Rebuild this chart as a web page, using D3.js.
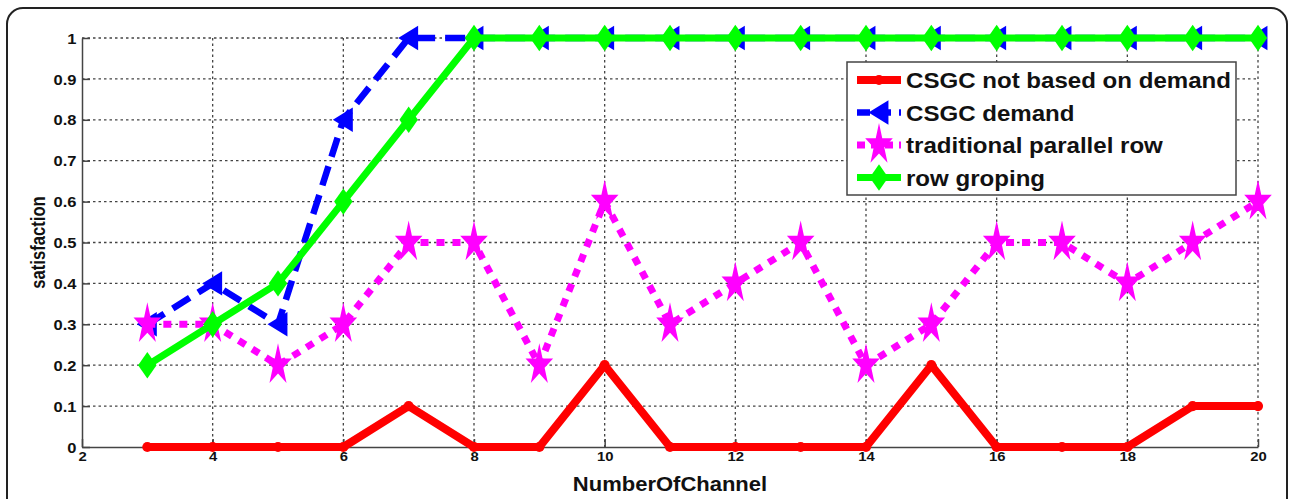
<!DOCTYPE html>
<html>
<head>
<meta charset="utf-8">
<script src="https://cdn.jsdelivr.net/npm/d3@7"></script>
<style>
  body { margin: 0; background: #fff; }
  text { font-family: "Liberation Sans", Arial, sans-serif; font-weight: bold; }
</style>
</head>
<body>
<svg id="svg" width="1289" height="499"></svg>
<script>
  const channels = [3, 4, 5, 6, 7, 8, 9, 10, 11, 12, 13, 14, 15, 16, 17, 18, 19, 20];
  const notDemand = [0, 0, 0, 0, 0.1, 0, 0, 0.2, 0, 0, 0, 0, 0.2, 0, 0, 0, 0.1, 0.1];
  const demand = [0.3, 0.4, 0.3, 0.8, 1, 1, 1, 1, 1, 1, 1, 1, 1, 1, 1, 1, 1, 1];
  const parallelRow = [0.3, 0.3, 0.2, 0.3, 0.5, 0.5, 0.2, 0.6, 0.3, 0.4, 0.5, 0.2, 0.3, 0.5, 0.5, 0.4, 0.5, 0.6];
  const rowGroping = [0.2, 0.3, 0.4, 0.6, 0.8, 1, 1, 1, 1, 1, 1, 1, 1, 1, 1, 1, 1, 1];
  const xTicks = [2, 4, 6, 8, 10, 12, 14, 16, 18, 20];
  const yTicks = [0, 0.1, 0.2, 0.3, 0.4, 0.5, 0.6, 0.7, 0.8, 0.9, 1];

  const padding = { top: 38, right: 31, bottom: 52, left: 82 };
  const svg = d3.select('#svg');
  const width = 1289, height = 499;
  const stretch = 1.1; // picture is a bit wider than tall
  const chartArea = {
    width: width - padding.left - padding.right,
    height: height - padding.top - padding.bottom
  };

  // outer rounded frame
  svg.append('rect')
    .attr('x', 7).attr('y', 8)
    .attr('width', 1280).attr('height', 540)
    .attr('rx', 16)
    .attr('fill', 'none')
    .attr('stroke', '#222')
    .attr('stroke-width', 2);

  const xScale = d3.scaleLinear().domain([2, 20]).range([0, chartArea.width]);
  const yScale = d3.scaleLinear().domain([0, 1]).range([chartArea.height, 0]);

  const g = svg.append('g')
    .attr('transform', `translate(${padding.left}, ${padding.top})`);

  // grid
  const grid = g.append('g').attr('stroke', '#444').attr('stroke-width', 1.3).attr('stroke-dasharray', '2.5,3');
  grid.selectAll('.gx').data(xTicks.slice(1)).enter().append('line')
    .attr('x1', d => xScale(d)).attr('x2', d => xScale(d))
    .attr('y1', 0).attr('y2', chartArea.height);
  grid.selectAll('.gy').data(yTicks.slice(1)).enter().append('line')
    .attr('y1', d => yScale(d)).attr('y2', d => yScale(d))
    .attr('x1', 0).attr('x2', chartArea.width);

  // axes
  const xAxis = g.append('g')
    .attr('transform', `translate(0, ${chartArea.height})`)
    .call(d3.axisBottom(xScale).tickValues(xTicks).tickSizeInner(-8).tickSizeOuter(0).tickPadding(4));
  const yAxis = g.append('g')
    .call(d3.axisLeft(yScale).tickValues(yTicks).tickSizeInner(-8).tickSizeOuter(0).tickPadding(5)
      .tickFormat(d => d === 0 ? '0' : d === 1 ? '1' : d3.format('.1f')(d)));
  [[xAxis, 13.5], [yAxis, 15]].forEach(([a, fs]) => {
    a.attr('font-size', fs);
    a.select('.domain').attr('stroke', '#444').attr('stroke-width', 1.5);
    a.selectAll('.tick line').attr('stroke', '#444').attr('stroke-width', 1.5);
    a.selectAll('.tick text')
      .attr('fill', '#111')
      .attr('transform', `scale(${stretch},1)`)
      .style('font-size', fs + 'px')
      .style('font-family', '"Liberation Sans", Arial, sans-serif')
      .style('font-weight', 'bold');
  });
  xAxis.selectAll('.tick text').attr('dy', '0.71em');
  yAxis.selectAll('.tick text').attr('dy', '0.34em');

  // axis labels
  svg.append('text')
    .attr('transform', `translate(${padding.left + chartArea.width / 2}, 491) scale(${stretch},1)`)
    .attr('text-anchor', 'middle').attr('font-size', 20).attr('fill', '#111')
    .text('NumberOfChannel');
  svg.append('text')
    .attr('transform', `translate(45, ${padding.top + chartArea.height / 2}) rotate(-90) scale(0.9,1.1)`)
    .attr('text-anchor', 'middle').attr('font-size', 18.5).attr('fill', '#111')
    .text('satisfaction');

  // marker shapes
  function markerPath(type, s) {
    if (type === 'tri') return `M${-s * 0.5},0L${s * 0.45},${-s * 0.58}L${s * 0.45},${s * 0.58}Z`;
    if (type === 'diamond') return `M0,${-s * 0.6}L${s * 0.42},0L0,${s * 0.6}L${-s * 0.42},0Z`;
    if (type === 'star') return d3.symbol(d3.symbolStar, s * s / 0.89)();
    return d3.symbol(d3.symbolCircle, s * s)();
  }
  // stars look narrower than tall in the picture
  function markerScale(type) {
    return type === 'star' ? 'scale(0.66,1)' : '';
  }

  const series = [
    { name: 'CSGC not based on demand', values: notDemand, color: '#ff0000', width: 8, dash: null, marker: 'dot', size: 9 },
    { name: 'CSGC demand', values: demand, color: '#0000ff', width: 6.5, dash: '20,10', marker: 'tri', size: 21 },
    { name: 'traditional parallel row', values: parallelRow, color: '#ff00ff', width: 7, dash: '8,8', marker: 'star', size: 22 },
    { name: 'row groping', values: rowGroping, color: '#00ff00', width: 7, dash: null, marker: 'diamond', size: 22 }
  ];

  const line = d3.line().x(d => xScale(d[0])).y(d => yScale(d[1]));

  series.forEach(s => {
    const pts = channels.map((c, i) => [c, s.values[i]]);
    g.append('path')
      .attr('d', line(pts))
      .attr('fill', 'none')
      .attr('stroke', s.color)
      .attr('stroke-width', s.width)
      .attr('stroke-linejoin', 'round')
      .attr('stroke-dasharray', s.dash);
    g.selectAll(null).data(pts).enter().append('path')
      .attr('d', markerPath(s.marker, s.size))
      .attr('transform', d => `translate(${xScale(d[0])}, ${yScale(d[1])}) ${markerScale(s.marker)}`)
      .attr('fill', s.color);
  });

  // legend
  const legend = svg.append('g').attr('transform', 'translate(847, 62)');
  legend.append('rect')
    .attr('width', 389).attr('height', 133)
    .attr('fill', '#fff').attr('stroke', '#444').attr('stroke-width', 1.5);
  series.forEach((s, i) => {
    const row = legend.append('g').attr('transform', `translate(0, ${18 + i * 32.5})`);
    row.append('line')
      .attr('x1', 10).attr('x2', 54)
      .attr('stroke', s.color).attr('stroke-width', s.width)
      .attr('stroke-dasharray', s.dash ? (s.marker === 'star' ? '8,6' : '13,8') : null);
    row.append('path')
      .attr('d', markerPath(s.marker, s.size))
      .attr('transform', `translate(32, 0) ${markerScale(s.marker)}`)
      .attr('fill', s.color);
    row.append('text')
      .attr('transform', `translate(59, 0) scale(1.07,1)`)
      .attr('dy', '0.36em')
      .attr('font-size', 22.5).attr('fill', '#111')
      .text(s.name);
  });
</script>
</body>
</html>
